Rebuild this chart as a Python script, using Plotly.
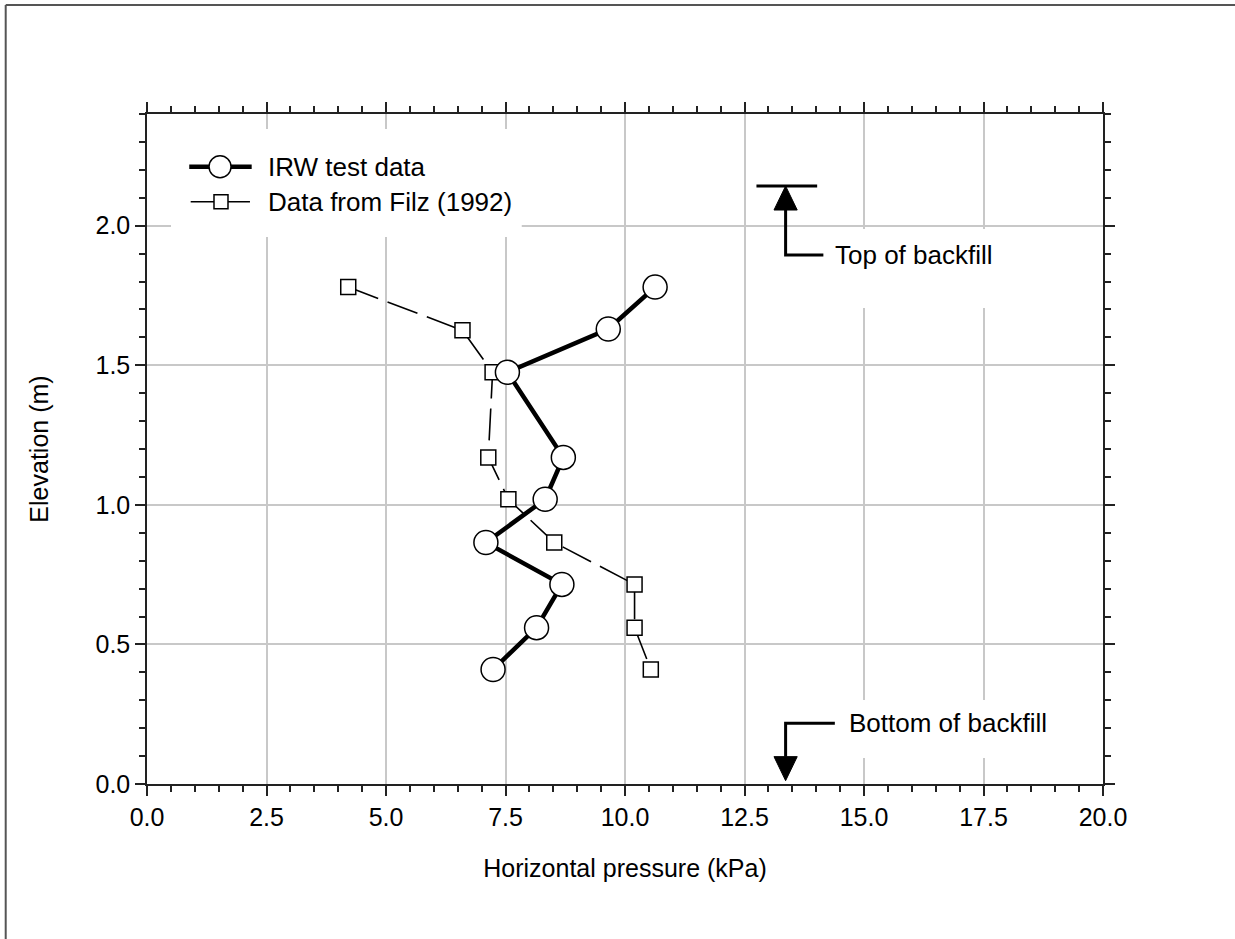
import plotly.graph_objects as go

# Elevation of each pressure cell (m)
irw_elev = [1.78, 1.63, 1.475, 1.17, 1.02, 0.865, 0.715, 0.56, 0.41]
irw_pressure = [10.63, 9.65, 7.54, 8.71, 8.33, 7.09, 8.68, 8.15, 7.24]

filz_elev = [1.78, 1.625, 1.475, 1.17, 1.02, 0.865, 0.715, 0.56, 0.41]
filz_pressure = [4.21, 6.60, 7.23, 7.14, 7.56, 8.52, 10.20, 10.20, 10.54]

series_names = ["IRW test data", "Data from Filz (1992)"]

x_ticks = [0.0, 2.5, 5.0, 7.5, 10.0, 12.5, 15.0, 17.5, 20.0]
y_ticks = [0.0, 0.5, 1.0, 1.5, 2.0]

top_backfill = 2.142
bottom_backfill = 0.0
marker_x = 13.36

FONT = "Liberation Sans, Arial, sans-serif"
TXT = 26
TICK = 25

fig = go.Figure()

fig.add_trace(go.Scatter(
    x=filz_pressure, y=filz_elev, mode="lines+markers", name=series_names[1],
    line=dict(color="black", width=1.6, dash="32px,10px"),
    marker=dict(symbol="square", size=15, color="white",
                line=dict(color="black", width=1.5)),
    showlegend=False,
))
fig.add_trace(go.Scatter(
    x=irw_pressure, y=irw_elev, mode="lines+markers", name=series_names[0],
    line=dict(color="black", width=4.5),
    marker=dict(symbol="circle", size=24, color="white",
                line=dict(color="black", width=1.5)),
    showlegend=False,
))

shapes = []
# page frame
shapes.append(dict(type="line", xref="paper", yref="paper", x0=-0.1478, x1=1.14,
                   y0=1.1627, y1=1.1627, line=dict(color="#555", width=2)))
shapes.append(dict(type="line", xref="paper", yref="paper", x0=-0.1478, x1=-0.1478,
                   y0=1.1627, y1=-0.24, line=dict(color="#555", width=2)))

# white backing behind the legend and the backfill labels
shapes.append(dict(type="rect", xref="paper", yref="paper", x0=0.0251, x1=0.392,
                   y0=0.8164, y1=0.9776, fillcolor="white", line=dict(width=0),
                   layer="above"))
shapes.append(dict(type="rect", x0=14.25, x1=17.95, y0=1.705, y1=1.988,
                   fillcolor="white", line=dict(width=0), layer="above"))
shapes.append(dict(type="rect", x0=14.5, x1=19.1, y0=0.093, y1=0.301,
                   fillcolor="white", line=dict(width=0), layer="above"))

# legend samples
shapes.append(dict(type="line", xref="paper", yref="paper", x0=0.0442, x1=0.1095,
                   y0=0.9213, y1=0.9213, line=dict(color="black", width=4.5),
                   layer="above"))
shapes.append(dict(type="circle", xref="paper", yref="paper", xsizemode="pixel",
                   ysizemode="pixel", xanchor=0.0764, yanchor=0.9213,
                   x0=-11, x1=11, y0=-11, y1=11, fillcolor="white",
                   line=dict(color="black", width=1.5), layer="above"))
shapes.append(dict(type="line", xref="paper", yref="paper", x0=0.0457, x1=0.1077,
                   y0=0.8691, y1=0.8691, line=dict(color="black", width=1.6),
                   layer="above"))
shapes.append(dict(type="rect", xref="paper", yref="paper", xsizemode="pixel",
                   ysizemode="pixel", xanchor=0.0774, yanchor=0.8691,
                   x0=-7, x1=7, y0=-7, y1=7, fillcolor="white",
                   line=dict(color="black", width=1.5), layer="above"))

# top of backfill marker
tri_h = 0.086
tri_w = 0.243
shapes.append(dict(type="line", x0=12.75, x1=14.02, y0=top_backfill, y1=top_backfill,
                   line=dict(color="black", width=3)))
shapes.append(dict(type="path",
                   path=f"M{marker_x},{top_backfill} L{marker_x - tri_w},{top_backfill - tri_h} "
                        f"L{marker_x + tri_w},{top_backfill - tri_h} Z",
                   fillcolor="black", line=dict(color="black", width=1)))
shapes.append(dict(type="path",
                   path=f"M{marker_x},{top_backfill - tri_h} L{marker_x},1.895 L14.15,1.895",
                   line=dict(color="black", width=3)))

# bottom of backfill marker
tip = bottom_backfill + 0.012
shapes.append(dict(type="path",
                   path=f"M{marker_x},{tip} L{marker_x - tri_w},{tip + tri_h} "
                        f"L{marker_x + tri_w},{tip + tri_h} Z",
                   fillcolor="black", line=dict(color="black", width=1)))
shapes.append(dict(type="path",
                   path=f"M{marker_x},{tip + tri_h} L{marker_x},0.218 L14.39,0.218",
                   line=dict(color="black", width=3)))

annotations = [
    dict(xref="paper", yref="paper", x=0.1245, y=0.9213, xanchor="left", yanchor="middle",
         text=series_names[0], showarrow=False, font=dict(family=FONT, size=TXT, color="black")),
    dict(xref="paper", yref="paper", x=0.1245, y=0.8691, xanchor="left", yanchor="middle",
         text=series_names[1], showarrow=False, font=dict(family=FONT, size=TXT, color="black")),
    dict(x=14.35, y=1.895, xanchor="left", yanchor="middle", text="Top of backfill",
         showarrow=False, font=dict(family=FONT, size=TXT, color="black")),
    dict(x=14.64, y=0.218, xanchor="left", yanchor="middle", text="Bottom of backfill",
         showarrow=False, font=dict(family=FONT, size=TXT, color="black")),
]

axis_common = dict(
    showline=True, linecolor="#222", linewidth=1.5, mirror="ticks",
    ticks="outside", ticklen=10, tickwidth=1.5, tickcolor="#222",
    showgrid=True, gridcolor="#c8c8c8", gridwidth=2, zeroline=False,
    tickfont=dict(family=FONT, size=TICK, color="black"),
    tickformat=".1f",
)

fig.update_xaxes(
    range=[0, 20], tickvals=x_ticks,
    minor=dict(dtick=0.5, ticks="outside", ticklen=6, tickwidth=1.5,
               tickcolor="#222", showgrid=False),
    title=dict(text="Horizontal pressure (kPa)", standoff=30,
               font=dict(family=FONT, size=TICK, color="black")),
    **axis_common,
)
fig.update_yaxes(
    range=[0, 2.4], tickvals=y_ticks,
    minor=dict(dtick=0.1, ticks="outside", ticklen=6, tickwidth=1.5,
               tickcolor="#222", showgrid=False),
    title=dict(text="Elevation (m)", standoff=40,
               font=dict(family=FONT, size=TICK, color="black")),
    **axis_common,
)

fig.update_layout(
    width=1235, height=939, autosize=False,
    margin=dict(l=147, r=132, t=114, b=155),
    paper_bgcolor="white", plot_bgcolor="white",
    shapes=shapes, annotations=annotations,
    font=dict(family=FONT, color="black"),
)

fig.write_html("out.html")
